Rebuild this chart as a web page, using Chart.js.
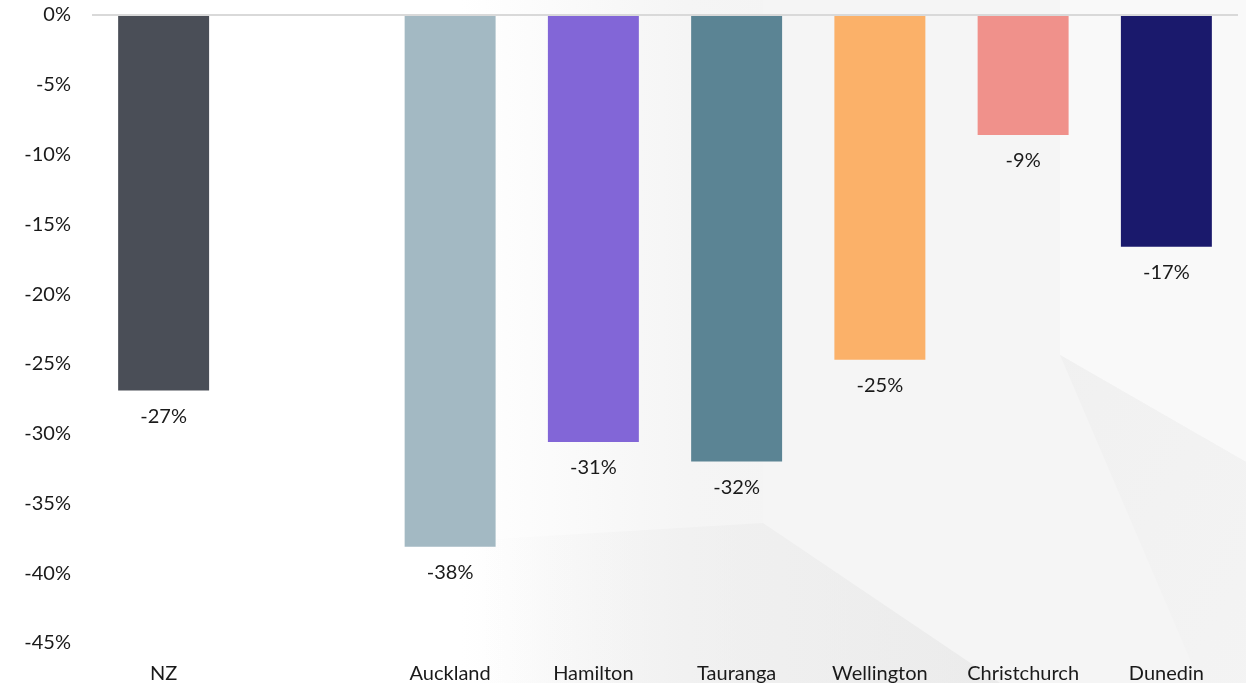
<!DOCTYPE html>
<html>
<head>
<meta charset="utf-8">
<script src="https://cdn.jsdelivr.net/npm/chart.js@4.4.1/dist/chart.umd.min.js"></script>
<style>
  html, body { margin: 0; padding: 0; background: #ffffff; overflow: hidden; }
  #wrap { position: relative; width: 1246px; height: 683px; overflow: hidden; }
  #bg { position: absolute; left: 0; top: 0; }
  #c { position: absolute; left: 0; top: -18px; }
</style>
</head>
<body>
<div id="wrap">
  <svg id="bg" width="1246" height="683" xmlns="http://www.w3.org/2000/svg">
    <defs>
      <linearGradient id="g1" x1="0" y1="0" x2="1" y2="0">
        <stop offset="0" stop-color="#ffffff"/>
        <stop offset="0.37" stop-color="#ffffff"/>
        <stop offset="0.55" stop-color="#f5f5f5"/>
        <stop offset="1" stop-color="#efefef"/>
      </linearGradient>
      <linearGradient id="g3" x1="0" y1="0" x2="1" y2="0">
        <stop offset="0" stop-color="#ececec" stop-opacity="0"/>
        <stop offset="0.5" stop-color="#ececec" stop-opacity="0.8"/>
        <stop offset="1" stop-color="#e8e8e8" stop-opacity="1"/>
      </linearGradient>
      <linearGradient id="g4" x1="0" y1="0" x2="1" y2="1">
        <stop offset="0" stop-color="#ebebeb" stop-opacity="0.9"/>
        <stop offset="1" stop-color="#ebebeb" stop-opacity="0.3"/>
      </linearGradient>
    </defs>
    <rect x="0" y="0" width="1246" height="683" fill="url(#g1)"/>
    <polygon points="763,0 1060,0 1060,355 1246,462 1246,683 1000,683 763,523" fill="#f5f5f5"/>
    <polygon points="1060,0 1246,0 1246,462 1060,355" fill="#f9f9f9"/>
    <polygon points="480,540 763,523 1000,683 480,683" fill="url(#g3)" opacity="0.7"/>
    <polygon points="1060,355 1246,462 1246,683 1200,683" fill="url(#g4)" opacity="0.5"/>
  </svg>
  <canvas id="c" width="1246" height="718"></canvas>
</div>
<script>
const categories = ["NZ", "", "Auckland", "Hamilton", "Tauranga", "Wellington", "Christchurch", "Dunedin"];
const changePct = [-26.9, null, -38.1, -30.6, -32.0, -24.7, -8.6, -16.6];
const barColors = ["#4a4e57", "#ffffff", "#a3b9c3", "#8266d7", "#5b8494", "#fbb169", "#f0918b", "#1a196c"];
const yTicks = [0, -5, -10, -15, -20, -25, -30, -35, -40, -45];

const FONT = "Lato, 'Open Sans', sans-serif";
const TXT = "#1a1a1a";

const valueLabels = {
  id: 'valueLabels',
  afterDatasetsDraw(chart) {
    const ctx = chart.ctx;
    const meta = chart.getDatasetMeta(0);
    ctx.save();
    ctx.font = "20px " + FONT;
    ctx.fillStyle = TXT;
    ctx.textAlign = "center";
    ctx.textBaseline = "middle";
    meta.data.forEach((el, i) => {
      const v = changePct[i];
      if (v === null || v === undefined) return;
      ctx.fillText(v.toFixed(0) + "%", el.x, el.y + 26);
    });
    ctx.restore();
  }
};

new Chart(document.getElementById('c'), {
  type: 'bar',
  data: {
    labels: categories,
    datasets: [{
      data: changePct,
      backgroundColor: barColors,
      borderWidth: 0,
      categoryPercentage: 1.0,
      barPercentage: 0.635
    }]
  },
  options: {
    responsive: false,
    animation: false,
    layout: { padding: { top: -2, left: 0, right: 8, bottom: 0 } },
    plugins: { legend: { display: false }, tooltip: { enabled: false } },
    scales: {
      x: {
        grid: { display: false, drawTicks: false },
        border: { display: false },
        ticks: { color: TXT, font: { family: FONT, size: 20 }, padding: 19, maxRotation: 0, autoSkip: false },
        afterFit(s) { s.height = 57; }
      },
      y: {
        min: -45, max: 0,
        afterBuildTicks(s) { s.ticks = yTicks.map(v => ({ value: v })); },
        grid: {
          drawTicks: false,
          color: (c) => c.tick && c.tick.value === 0 ? "#d9d9d9" : "rgba(0,0,0,0)",
          lineWidth: 2
        },
        border: { display: false },
        ticks: { color: TXT, font: { family: FONT, size: 20 }, padding: 21, callback: v => v + "%" },
        afterFit(s) { s.width = 92; }
      }
    }
  },
  plugins: [valueLabels]
});
</script>
</body>
</html>
